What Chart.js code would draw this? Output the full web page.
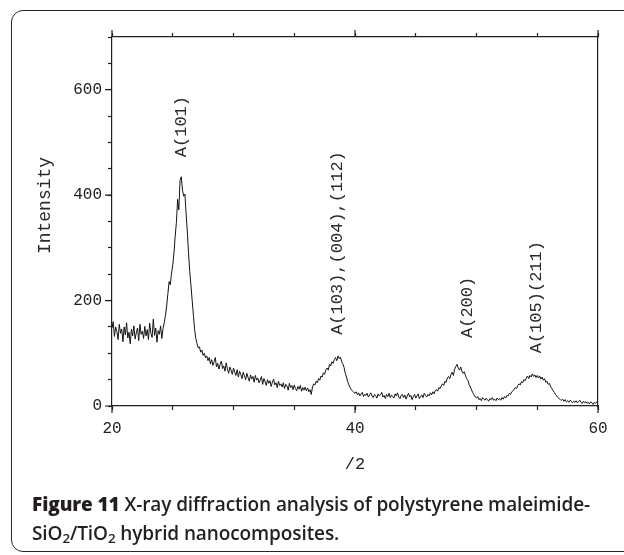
<!DOCTYPE html>
<html>
<head>
<meta charset="utf-8">
<script src="https://cdn.jsdelivr.net/npm/chart.js@4.4.1/dist/chart.umd.min.js"></script>
<style>
  html, body { margin: 0; padding: 0; background: #fff; }
  #wrap { position: relative; width: 624px; height: 555px; overflow: hidden; }
  #frame {
    position: absolute; left: 11px; top: 10px; width: 700px; height: 540px;
    border: 1.6px solid #262626; border-radius: 12px;
  }
  #plot { position: absolute; left: 0; top: 0; width: 624px; height: 555px; }
  #caption {
    position: absolute; left: 32px; top: 490px; width: 592px;
    font-family: 'Open Sans', sans-serif; font-weight: 600; font-size: 19px;
    line-height: 29px; color: #231f20; white-space: nowrap; letter-spacing: -0.1px;
  }
  #caption b { font-weight: 800; }
  #caption sub { font-size: 0.7em; vertical-align: -0.25em; line-height: 0; }
</style>
</head>
<body>
<div id="wrap">
  <div id="frame"></div>
  <div id="plot"><canvas id="xrd"></canvas></div>
  <div id="caption"><b>Figure 11</b> X-ray diffraction analysis of polystyrene maleimide-<br>SiO<sub>2</sub>/TiO<sub>2</sub> hybrid nanocomposites.</div>
</div>
<script>
// scan: 20..60 deg, one reading every 0.1 deg (one row per degree)
const START = 20, STEP = 0.1;
const intensity = [
  148, 160, 132, 150, 141, 126, 155, 138, 146, 122,   // 20
  150, 135, 158, 129, 140, 118, 146, 133, 152, 127,   // 21
  139, 148, 124, 155, 136, 142, 128, 151, 133, 145,   // 22
  126, 157, 138, 130, 165, 134, 148, 121, 143, 136,   // 23
  152, 128, 147, 158, 172, 190, 213, 236, 230, 252,   // 24
  268, 290, 322, 348, 392, 372, 428, 435, 410, 398,   // 25
  402, 365, 330, 290, 255, 228, 200, 172, 145, 128,   // 26
  118, 110, 112, 102, 106, 96, 100, 91, 95, 86,       // 27
  92, 80, 88, 77, 84, 92, 74, 81, 70, 79,             // 28
  85, 71, 76, 66, 82, 70, 62, 74, 68, 60,             // 29
  72, 64, 58, 69, 55, 66, 60, 52, 64, 57,             // 30
  50, 62, 54, 47, 59, 51, 56, 45, 58, 49,             // 31
  53, 44, 49, 56, 41, 52, 46, 39, 50, 43,             // 32
  48, 37, 45, 51, 40, 44, 35, 47, 39, 42,             // 33
  36, 44, 33, 41, 38, 30, 43, 35, 39, 31,             // 34
  40, 33, 29, 37, 32, 39, 28, 35, 30, 36,             // 35
  29, 34, 27, 31, 22, 36, 42, 40, 47, 44,             // 36
  52, 49, 57, 55, 63, 60, 69, 72, 68, 79,             // 37
  76, 84, 81, 88, 92, 86, 95, 90, 93, 84,             // 38
  80, 73, 62, 55, 46, 40, 35, 31, 28, 26,             // 39
  24, 27, 21, 25, 19, 23, 26, 18, 22, 20,             // 40
  24, 17, 21, 25, 19, 16, 22, 20, 15, 23,             // 41
  19, 21, 26, 17, 20, 14, 22, 18, 24, 16,             // 42
  21, 18, 15, 23, 19, 25, 17, 14, 20, 22,             // 43
  16, 21, 13, 19, 24, 17, 20, 12, 18, 22,             // 44
  15, 19, 23, 14, 18, 21, 16, 24, 20, 17,             // 45
  22, 19, 25, 21, 27, 23, 29, 31, 28, 35,             // 46
  33, 38, 42, 39, 47, 45, 53, 56, 52, 60,             // 47
  64, 58, 70, 75, 79, 72, 68, 74, 66, 62,             // 48
  65, 57, 52, 48, 40, 36, 30, 25, 21, 17,             // 49
  15, 18, 12, 14, 10, 16, 13, 11, 15, 12,             // 50
  9, 14, 12, 16, 11, 13, 10, 15, 12, 14,              // 51
  11, 16, 13, 18, 15, 20, 19, 24, 22, 27,             // 52
  29, 31, 35, 33, 39, 42, 40, 46, 44, 50,             // 53
  48, 53, 57, 52, 58, 55, 61, 56, 59, 54,             // 54
  58, 53, 57, 51, 55, 49, 52, 45, 47, 41,             // 55
  43, 37, 33, 29, 26, 22, 19, 16, 14, 12,             // 56
  11, 13, 9, 12, 8, 10, 7, 11, 9, 6,                  // 57
  9, 7, 10, 6, 8, 11, 7, 5, 9, 6,                     // 58
  8, 5, 7, 4, 8, 6, 3, 7, 5, 8,                       // 59
  6                                                   // 60
];
const twoTheta = intensity.map((_, i) => +(START + i * STEP).toFixed(1));

const xLabels = [20, 40, 60];
const yLabels = [0, 200, 400, 600];

// reflection labels, drawn vertically above each peak
const peakNames = ['A(101)', 'A(103),(004),(112)', 'A(200)', 'A(105)(211)'];
const peakAt    = [25.7, 38.6, 49.3, 54.9];
const labelBase = [472, 135, 129, 100];

const MONO = "'Liberation Mono', 'Courier New', monospace";
const INK = '#1e1e1e';

// longer marks for the labelled ticks
const majorTicks = {
  id: 'majorTicks',
  afterDraw(chart) {
    const { ctx, chartArea: a, scales } = chart;
    ctx.save();
    ctx.strokeStyle = INK;
    ctx.lineWidth = 1.2;
    ctx.beginPath();
    xLabels.forEach(v => {
      const px = scales.x.getPixelForValue(v);
      ctx.moveTo(px, a.bottom); ctx.lineTo(px, a.bottom + 7);
      ctx.moveTo(px, a.top);    ctx.lineTo(px, a.top - 7);
    });
    yLabels.forEach(v => {
      const py = scales.y.getPixelForValue(v);
      ctx.moveTo(a.left, py); ctx.lineTo(a.left - 7, py);
    });
    ctx.stroke();
    ctx.restore();
  }
};

const peakText = {
  id: 'peakText',
  afterDraw(chart) {
    const { ctx, chartArea: a, scales } = chart;
    ctx.save();
    ctx.fillStyle = '#2a2a2a';
    ctx.font = '17px ' + MONO;
    ctx.textAlign = 'left';
    ctx.textBaseline = 'middle';
    peakNames.forEach((name, i) => {
      ctx.save();
      ctx.translate(scales.x.getPixelForValue(peakAt[i]), scales.y.getPixelForValue(labelBase[i]));
      ctx.rotate(-Math.PI / 2);
      ctx.fillText(name, 0, 0);
      ctx.restore();
    });
    // y axis title
    ctx.font = '18px ' + MONO;
    ctx.textAlign = 'center';
    ctx.translate(a.left - 67, (a.top + a.bottom) / 2 - 16);
    ctx.rotate(-Math.PI / 2);
    ctx.fillText('Intensity', 0, 0);
    ctx.restore();
  }
};

new Chart(document.getElementById('xrd'), {
  type: 'line',
  data: {
    datasets: [{
      data: twoTheta.map((x, i) => ({ x, y: intensity[i] })),
      borderColor: '#141414',
      borderWidth: 1,
      pointRadius: 0,
      tension: 0,
      fill: false
    }]
  },
  options: {
    responsive: true,
    maintainAspectRatio: false,
    animation: false,
    layout: { padding: { left: 0, top: 37, right: 26, bottom: 77 } },
    plugins: { legend: { display: false }, tooltip: { enabled: false } },
    scales: {
      x: {
        type: 'linear', position: 'bottom', min: 20, max: 60,
        ticks: {
          stepSize: 5, autoSkip: false, maxRotation: 0, padding: 9,
          color: '#222', font: { family: MONO, size: 16 },
          callback: v => xLabels.includes(v) ? v : ''
        },
        grid: { drawOnChartArea: false, tickLength: 4, tickColor: INK, tickWidth: 1.2 },
        border: { color: INK, width: 1.2 },
        title: { display: true, text: '/2', color: '#222', font: { family: MONO, size: 17 }, padding: { top: 0, bottom: 3 } },
        afterFit: s => { s.height = 72; }
      },
      xTop: {
        type: 'linear', position: 'top', min: 20, max: 60,
        ticks: { stepSize: 5, display: false },
        grid: { drawOnChartArea: false, tickLength: 4, tickColor: INK, tickWidth: 1.2 },
        border: { color: INK, width: 1.2 },
        afterFit: s => { s.height = 0; }
      },
      y: {
        min: 0, max: 700,
        ticks: {
          stepSize: 50, autoSkip: false, padding: 6,
          color: '#222', font: { family: MONO, size: 16 },
          callback: v => yLabels.includes(v) ? v : ''
        },
        grid: { drawOnChartArea: false, tickLength: 4, tickColor: INK, tickWidth: 1.2 },
        border: { color: INK, width: 1.2 },
        afterFit: s => { s.width = 112; }
      },
      yRight: {
        position: 'right', min: 0, max: 700,
        ticks: { display: false },
        grid: { drawOnChartArea: false, drawTicks: false },
        border: { color: INK, width: 1.2 },
        afterFit: s => { s.width = 0; }
      }
    }
  },
  plugins: [majorTicks, peakText]
});
</script>
</body>
</html>
